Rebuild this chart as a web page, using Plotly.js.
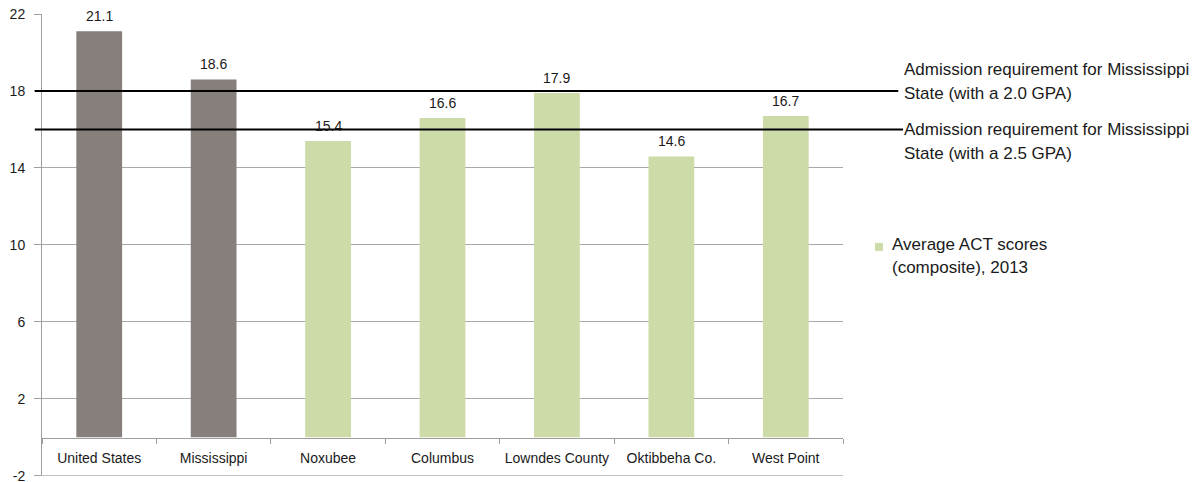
<!DOCTYPE html>
<html>
<head>
<meta charset="utf-8">
<script src="https://cdn.plot.ly/plotly-3.0.1.min.js"></script>
<style>html,body{margin:0;padding:0;background:#fff}#chart{width:1197px;height:482px}</style>
</head>
<body>
<div id="chart"></div>
<script>
const categories = ["United States", "Mississippi", "Noxubee", "Columbus", "Lowndes County", "Oktibbeha Co.", "West Point"];
const scores = [21.1, 18.6, 15.4, 16.6, 17.9, 14.6, 16.7];
const isReference = [true, true, false, false, false, false, false];
const yTicks = [-2, 2, 6, 10, 14, 18, 22];
const requirementValues = [18, 16];
const requirementLabels = [
  ["Admission requirement for Mississippi", "State (with a 2.0 GPA)"],
  ["Admission requirement for Mississippi", "State (with a 2.5 GPA)"]
];
const legendLabel = ["Average ACT scores", "(composite), 2013"];

const GRAY = "#877f7b", GREEN = "#cddba9";
const FONT = "Liberation Sans, Arial, sans-serif";

const grayY = scores.map((v, i) => isReference[i] ? v : null);
const greenY = scores.map((v, i) => isReference[i] ? null : v);

const traces = [
  {type: "bar", x: categories, y: grayY, marker: {color: GRAY}, width: 0.4, showlegend: false, hoverinfo: "skip"},
  {type: "bar", x: categories, y: greenY, marker: {color: GREEN}, width: 0.4, showlegend: false, hoverinfo: "skip"}
];

const annotations = categories.map((c, i) => ({
  x: c, y: scores[i], xref: "x", yref: "y", text: scores[i].toFixed(1),
  showarrow: false, yanchor: "bottom", yshift: 5,
  font: {family: FONT, size: 14, color: "#1a1a1a"}
}));

const shapes = [];
const lineEnds = [1.069, 1.075];
const textStart = [(903 - 42) / 801, (903 - 42) / 801];
const firstLineShift = [21, 0];
requirementValues.forEach((v, k) => {
  shapes.push({type: "line", xref: "paper", yref: "y", x0: -0.009, x1: lineEnds[k], y0: v, y1: v,
    line: {color: "#000", width: 2}});
  requirementLabels[k].forEach((txt, j) => {
    annotations.push({xref: "paper", yref: "y", x: textStart[k], y: v, xanchor: "left",
      yanchor: "middle", yshift: firstLineShift[k] - 24 * j, align: "left", showarrow: false, text: txt,
      borderpad: 0, font: {family: FONT, size: 17, color: "#1a1a1a"}});
  });
});

// bottom gridline at -2
shapes.push({type: "line", xref: "paper", yref: "y", x0: -7 / 801, x1: 1, y0: -2, y1: -2,
  line: {color: "#a8a8a8", width: 1}});

// legend entry
shapes.push({type: "rect", xref: "paper", yref: "y", x0: (875 - 42) / 801, x1: (883 - 42) / 801,
  y0: (437.5 - 243) / 19.25, y1: (437.5 - 251) / 19.25, fillcolor: GREEN, line: {width: 0}});
legendLabel.forEach((txt, j) => {
  annotations.push({xref: "paper", yref: "y", x: (891 - 42) / 801, y: (437.5 - 245) / 19.25, xanchor: "left",
    yanchor: "middle", yshift: -23 * j, align: "left", showarrow: false, text: txt, borderpad: 0,
    font: {family: FONT, size: 17, color: "#1a1a1a"}});
});

const layout = {
  width: 1197, height: 482,
  margin: {l: 42, r: 354, t: 14, b: 6},
  paper_bgcolor: "#fff", plot_bgcolor: "#fff",
  barmode: "overlay",
  showlegend: false,
  font: {family: FONT, size: 14, color: "#000"},
  xaxis: {
    type: "category", anchor: "free", position: 2 / 24,
    showline: true, linecolor: "#9e9e9e", linewidth: 1,
    ticks: "outside", tickson: "boundaries", ticklen: 5, tickcolor: "#9e9e9e",
    ticklabelstandoff: 8,
    showgrid: false, zeroline: false,
    tickfont: {family: FONT, size: 14, color: "#1a1a1a"}
  },
  yaxis: {
    range: [-2.01, 22], tickvals: yTicks, ticktext: yTicks.map(String),
    showline: true, linecolor: "#9e9e9e", linewidth: 1,
    ticks: "outside", ticklen: 7, tickcolor: "#9e9e9e",
    ticklabelstandoff: 6, ticklabeloverflow: "allow",
    showgrid: true, gridcolor: "#a8a8a8", gridwidth: 1, zeroline: false,
    tickfont: {family: FONT, size: 14, color: "#1a1a1a"}
  },
  shapes: shapes,
  annotations: annotations
};

Plotly.newPlot("chart", traces, layout, {displayModeBar: false, staticPlot: true});
</script>
</body>
</html>
